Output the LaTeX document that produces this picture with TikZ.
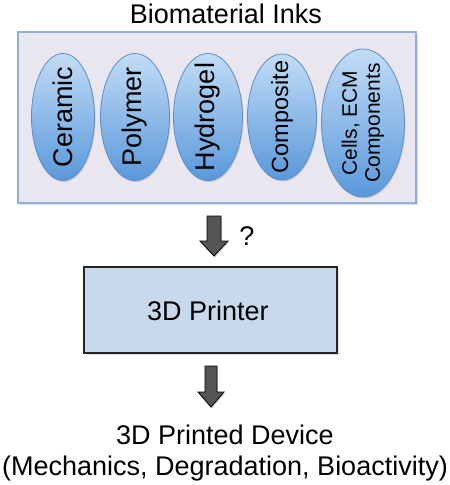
\documentclass[tikz,border=0pt]{standalone}
\usepackage{fontspec}
\setmainfont{Liberation Sans}
\usetikzlibrary{shadows,calc,shapes.geometric}
\definecolor{outerfill}{HTML}{EAE6EF}
\definecolor{outerdraw}{HTML}{8DB0DA}
\definecolor{elltop}{HTML}{C2DCF6}
\definecolor{ellbot}{HTML}{5A98DA}
\definecolor{elldraw}{HTML}{5A8ECB}
\definecolor{printfill}{HTML}{C7D9EB}
\definecolor{arrowfill}{HTML}{555555}
\tikzset{
  big/.style={font=\fontsize{27}{31}\selectfont},
  outerbox/.style={draw=outerdraw, line width=1.2pt, fill=outerfill, drop shadow={opacity=0.25, shadow xshift=1.5pt, shadow yshift=-1.5pt}},
  ink/.style={ellipse, draw=elldraw, line width=0.8pt, top color=elltop, bottom color=ellbot, inner sep=0pt, drop shadow={opacity=0.3, shadow xshift=1pt, shadow yshift=-1.5pt}},
  inktext/.style={rotate=90, text=black},
  printerbox/.style={draw=black!85, line width=1.4pt, fill=printfill, drop shadow={opacity=0.25, shadow xshift=1.5pt, shadow yshift=-1.5pt}},
  blockarr/.style={draw=black, line width=0.8pt, fill=arrowfill, line join=miter, drop shadow={opacity=0.3, shadow xshift=1pt, shadow yshift=-1.5pt}},
}
\newcommand{\blockarrow}[4]{% start, tip, shaft half width, head half width
  \path[blockarr] ($(#1)+(-#3,0)$) -- ($(#2)+(-#3,-15)$) -- ($(#2)+(-#4,-15)$) -- (#2) -- ($(#2)+(#4,-15)$) -- ($(#2)+(#3,-15)$) -- ($(#1)+(#3,0)$) -- cycle;
}
\begin{document}
\begin{tikzpicture}[x=1pt,y=-1pt]
\useasboundingbox (0,0) rectangle (450,485);
\fill[white] (0,0) rectangle (450,485);
% title
\node[big] (title) at (226,14) {Biomaterial Inks};
% outer box
\node[outerbox, minimum width=398pt, minimum height=171pt, inner sep=0pt] (inks) at (217,117.5) {};
% ellipses
\node[ink, minimum width=63pt, minimum height=127pt] (cer) at (63,117) {};
\node[inktext, big] at (cer) {Ceramic};
\node[ink, minimum width=69pt, minimum height=127pt] (pol) at (135,117) {};
\node[inktext, big] at (pol) {Polymer};
\node[ink, minimum width=69pt, minimum height=127pt] (hyd) at (208,117) {};
\node[inktext, big] at (hyd) {Hydrogel};
\node[ink, minimum width=69pt, minimum height=126pt] (com) at (282,117) {};
\node[inktext, font=\fontsize{23.5}{27}\selectfont] at (com) {Composite};
\node[ink, minimum width=83pt, minimum height=148pt] (cel) at (363,123) {};
\node[inktext, font=\fontsize{21}{23}\selectfont, align=center] at (cel) {Cells, ECM\\Components};
% printer
\node[printerbox, minimum width=253pt, minimum height=86pt, inner sep=0pt] (printer) at (210.5,310) {};
\node[big] at (208,311) {3D Printer};
% output
\node[big, align=center, inner sep=0pt] (device) at (225,453) {3D Printed Device\\(Mechanics, Degradation, Bioactivity)};
% arrows
\coordinate (a1s) at (214,216);
\coordinate (a1e) at (214,256);
\blockarrow{a1s}{a1e}{7}{14}
\node[big] (q) at (247,236) {?};
\coordinate (a2s) at (211,366);
\coordinate (a2e) at (211,407);
\blockarrow{a2s}{a2e}{6}{13}
\end{tikzpicture}
\end{document}
